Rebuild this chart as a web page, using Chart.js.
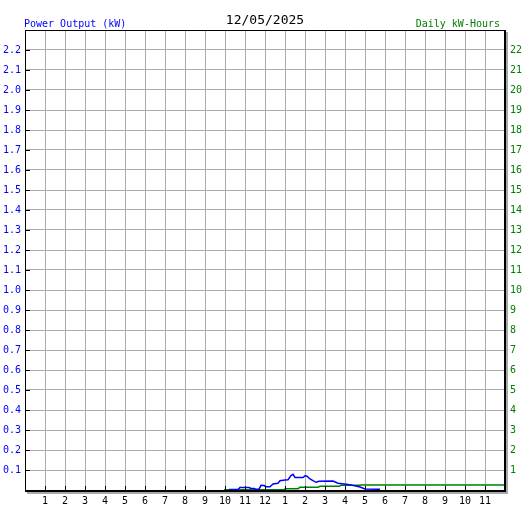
<!DOCTYPE html>
<html>
<head>
<meta charset="utf-8">
<script src="https://cdn.jsdelivr.net/npm/chart.js@4"></script>
<style>
  html, body { margin: 0; padding: 0; background: #ffffff; }
  #wrap { width: 527px; height: 510px; }
</style>
</head>
<body>
<div id="wrap"><canvas id="c" width="527" height="510"></canvas></div>
<script>
// ---- data ----
const chartTitle = '12/05/2025';
const leftCaption = 'Power Output (kW)';
const rightCaption = 'Daily kW-Hours';

const xTickValues = [1,2,3,4,5,6,7,8,9,10,11,12,13,14,15,16,17,18,19,20,21,22,23];
const xTickLabels = ['1','2','3','4','5','6','7','8','9','10','11','12','1','2','3','4','5','6','7','8','9','10','11'];
const leftTickValues = [0.1,0.2,0.3,0.4,0.5,0.6,0.7,0.8,0.9,1.0,1.1,1.2,1.3,1.4,1.5,1.6,1.7,1.8,1.9,2.0,2.1,2.2];
const rightTickValues = [1,2,3,4,5,6,7,8,9,10,11,12,13,14,15,16,17,18,19,20,21,22];

// power output (hour of day, kW)
const powerHours = [10.2, 10.65, 10.75, 11.2, 11.3, 11.45, 11.55, 11.7, 11.8, 11.95,
                    12.05, 12.25, 12.4, 12.65, 12.75, 13.0, 13.15, 13.3, 13.4, 13.5,
                    13.9, 14.0, 14.1, 14.25, 14.4, 14.55, 14.7, 15.4, 15.65, 16.15,
                    16.55, 16.75, 17.0, 17.75];
const powerKW = [0.0025, 0.0025, 0.0125, 0.0125, 0.0075, 0.0075, 0.0035, 0.0035, 0.0235, 0.0225,
                 0.0165, 0.0165, 0.03, 0.0335, 0.0465, 0.05, 0.0515, 0.0725, 0.0785, 0.0625,
                 0.0625, 0.071, 0.0685, 0.055, 0.0465, 0.0385, 0.0435, 0.045, 0.0335, 0.0275,
                 0.02, 0.015, 0.005, 0.0035];

// cumulative daily energy (hour of day, kWh)
const energyHours = [9.95, 12.95, 13.05, 13.65, 13.75, 14.65, 14.75, 15.7, 15.8, 16.7, 16.8, 24];
const energyKWh = [0.015, 0.025, 0.065, 0.065, 0.135, 0.135, 0.185, 0.185, 0.235, 0.235, 0.25, 0.25];

// ---- styles ----
const BLUE = '#0000ff';
const GREEN = '#008000';
const GRID = '#aaaaaa';
const SHADOW = '#a8a8a8';
const tickFont = { family: "'DejaVu Sans Mono', monospace", size: 10 };

const framePlugin = {
  id: 'frame',
  afterDraw(chart) {
    const ctx = chart.ctx;
    const a = chart.chartArea;
    const xs = chart.scales.x, ys = chart.scales.y;
    ctx.save();
    // inner tick marks on left axis
    ctx.strokeStyle = '#000';
    ctx.lineWidth = 1;
    ctx.beginPath();
    leftTickValues.forEach(v => {
      const y = Math.round(ys.getPixelForValue(v)) + 0.5;
      ctx.moveTo(a.left, y); ctx.lineTo(a.left + 5, y);
    });
    ctx.stroke();
    // inner tick marks on bottom axis
    ctx.beginPath();
    xTickValues.forEach(v => {
      const x = Math.round(xs.getPixelForValue(v)) + 0.5;
      ctx.moveTo(x, a.bottom - 4); ctx.lineTo(x, a.bottom);
    });
    ctx.stroke();
    // shadows
    ctx.fillStyle = SHADOW;
    ctx.fillRect(a.right + 1, a.top + 2, 2, a.bottom - a.top + 1);
    ctx.fillRect(a.left + 2, a.bottom + 2, a.right - a.left + 1, 2);
    // frame
    ctx.fillStyle = '#000';
    ctx.fillRect(a.left, a.top, a.right - a.left, 1);          // top
    ctx.fillRect(a.left, a.top, 1, a.bottom - a.top);          // left
    ctx.fillRect(a.right - 1, a.top, 2, a.bottom - a.top + 2); // right
    ctx.fillRect(a.left, a.bottom, a.right - a.left + 1, 2);   // bottom
    // captions
    ctx.textBaseline = 'alphabetic';
    ctx.font = "13px 'DejaVu Sans Mono', monospace";
    ctx.fillStyle = '#000';
    ctx.textAlign = 'center';
    ctx.fillText(chartTitle, (a.left + a.right) / 2, 24);
    ctx.font = "10px 'DejaVu Sans Mono', monospace";
    ctx.fillStyle = BLUE;
    ctx.textAlign = 'left';
    ctx.fillText(leftCaption, 24, 26.5);
    ctx.fillStyle = GREEN;
    ctx.textAlign = 'right';
    ctx.fillText(rightCaption, 500, 26.5);
    ctx.restore();
  }
};

new Chart(document.getElementById('c'), {
  type: 'line',
  data: {
    datasets: [
      {
        label: 'Power Output (kW)',
        data: powerHours.map((h, i) => ({ x: h, y: powerKW[i] })),
        borderColor: BLUE, borderWidth: 1.5, pointRadius: 0, tension: 0, fill: false,
        yAxisID: 'y'
      },
      {
        label: 'Daily kW-Hours',
        data: energyHours.map((h, i) => ({ x: h, y: energyKWh[i] })),
        borderColor: GREEN, borderWidth: 1.5, pointRadius: 0, tension: 0, fill: false,
        yAxisID: 'y1'
      }
    ]
  },
  options: {
    responsive: false,
    animation: false,
    events: [],
    layout: { padding: { top: 30, left: 0, right: 0, bottom: 0 } },
    plugins: { legend: { display: false }, tooltip: { enabled: false }, title: { display: false } },
    scales: {
      x: {
        type: 'linear', min: 0, max: 24,
        afterFit: s => { s.height = 20; },
        afterBuildTicks: s => { s.ticks = xTickValues.map(v => ({ value: v })); },
        grid: { color: GRID, lineWidth: 1, drawTicks: false },
        border: { display: false },
        ticks: {
          autoSkip: false, maxRotation: 0, padding: 5, color: '#000', font: tickFont,
          callback: (v, i) => xTickLabels[i]
        }
      },
      y: {
        type: 'linear', position: 'left', min: 0, max: 2.3,
        afterFit: s => { s.width = 25; },
        afterBuildTicks: s => { s.ticks = leftTickValues.map(v => ({ value: v })); },
        grid: { color: GRID, lineWidth: 1, drawTicks: false },
        border: { display: false },
        ticks: {
          autoSkip: false, padding: 4, color: BLUE, font: tickFont,
          callback: v => Number(v).toFixed(1)
        }
      },
      y1: {
        type: 'linear', position: 'right', min: 0, max: 23,
        afterFit: s => { s.width = 22; },
        afterBuildTicks: s => { s.ticks = rightTickValues.map(v => ({ value: v })); },
        grid: { display: false, drawOnChartArea: false, drawTicks: false },
        border: { display: false },
        ticks: {
          autoSkip: false, padding: 5, color: GREEN, font: tickFont,
          callback: v => String(v)
        }
      }
    }
  },
  plugins: [framePlugin]
});
</script>
</body>
</html>
